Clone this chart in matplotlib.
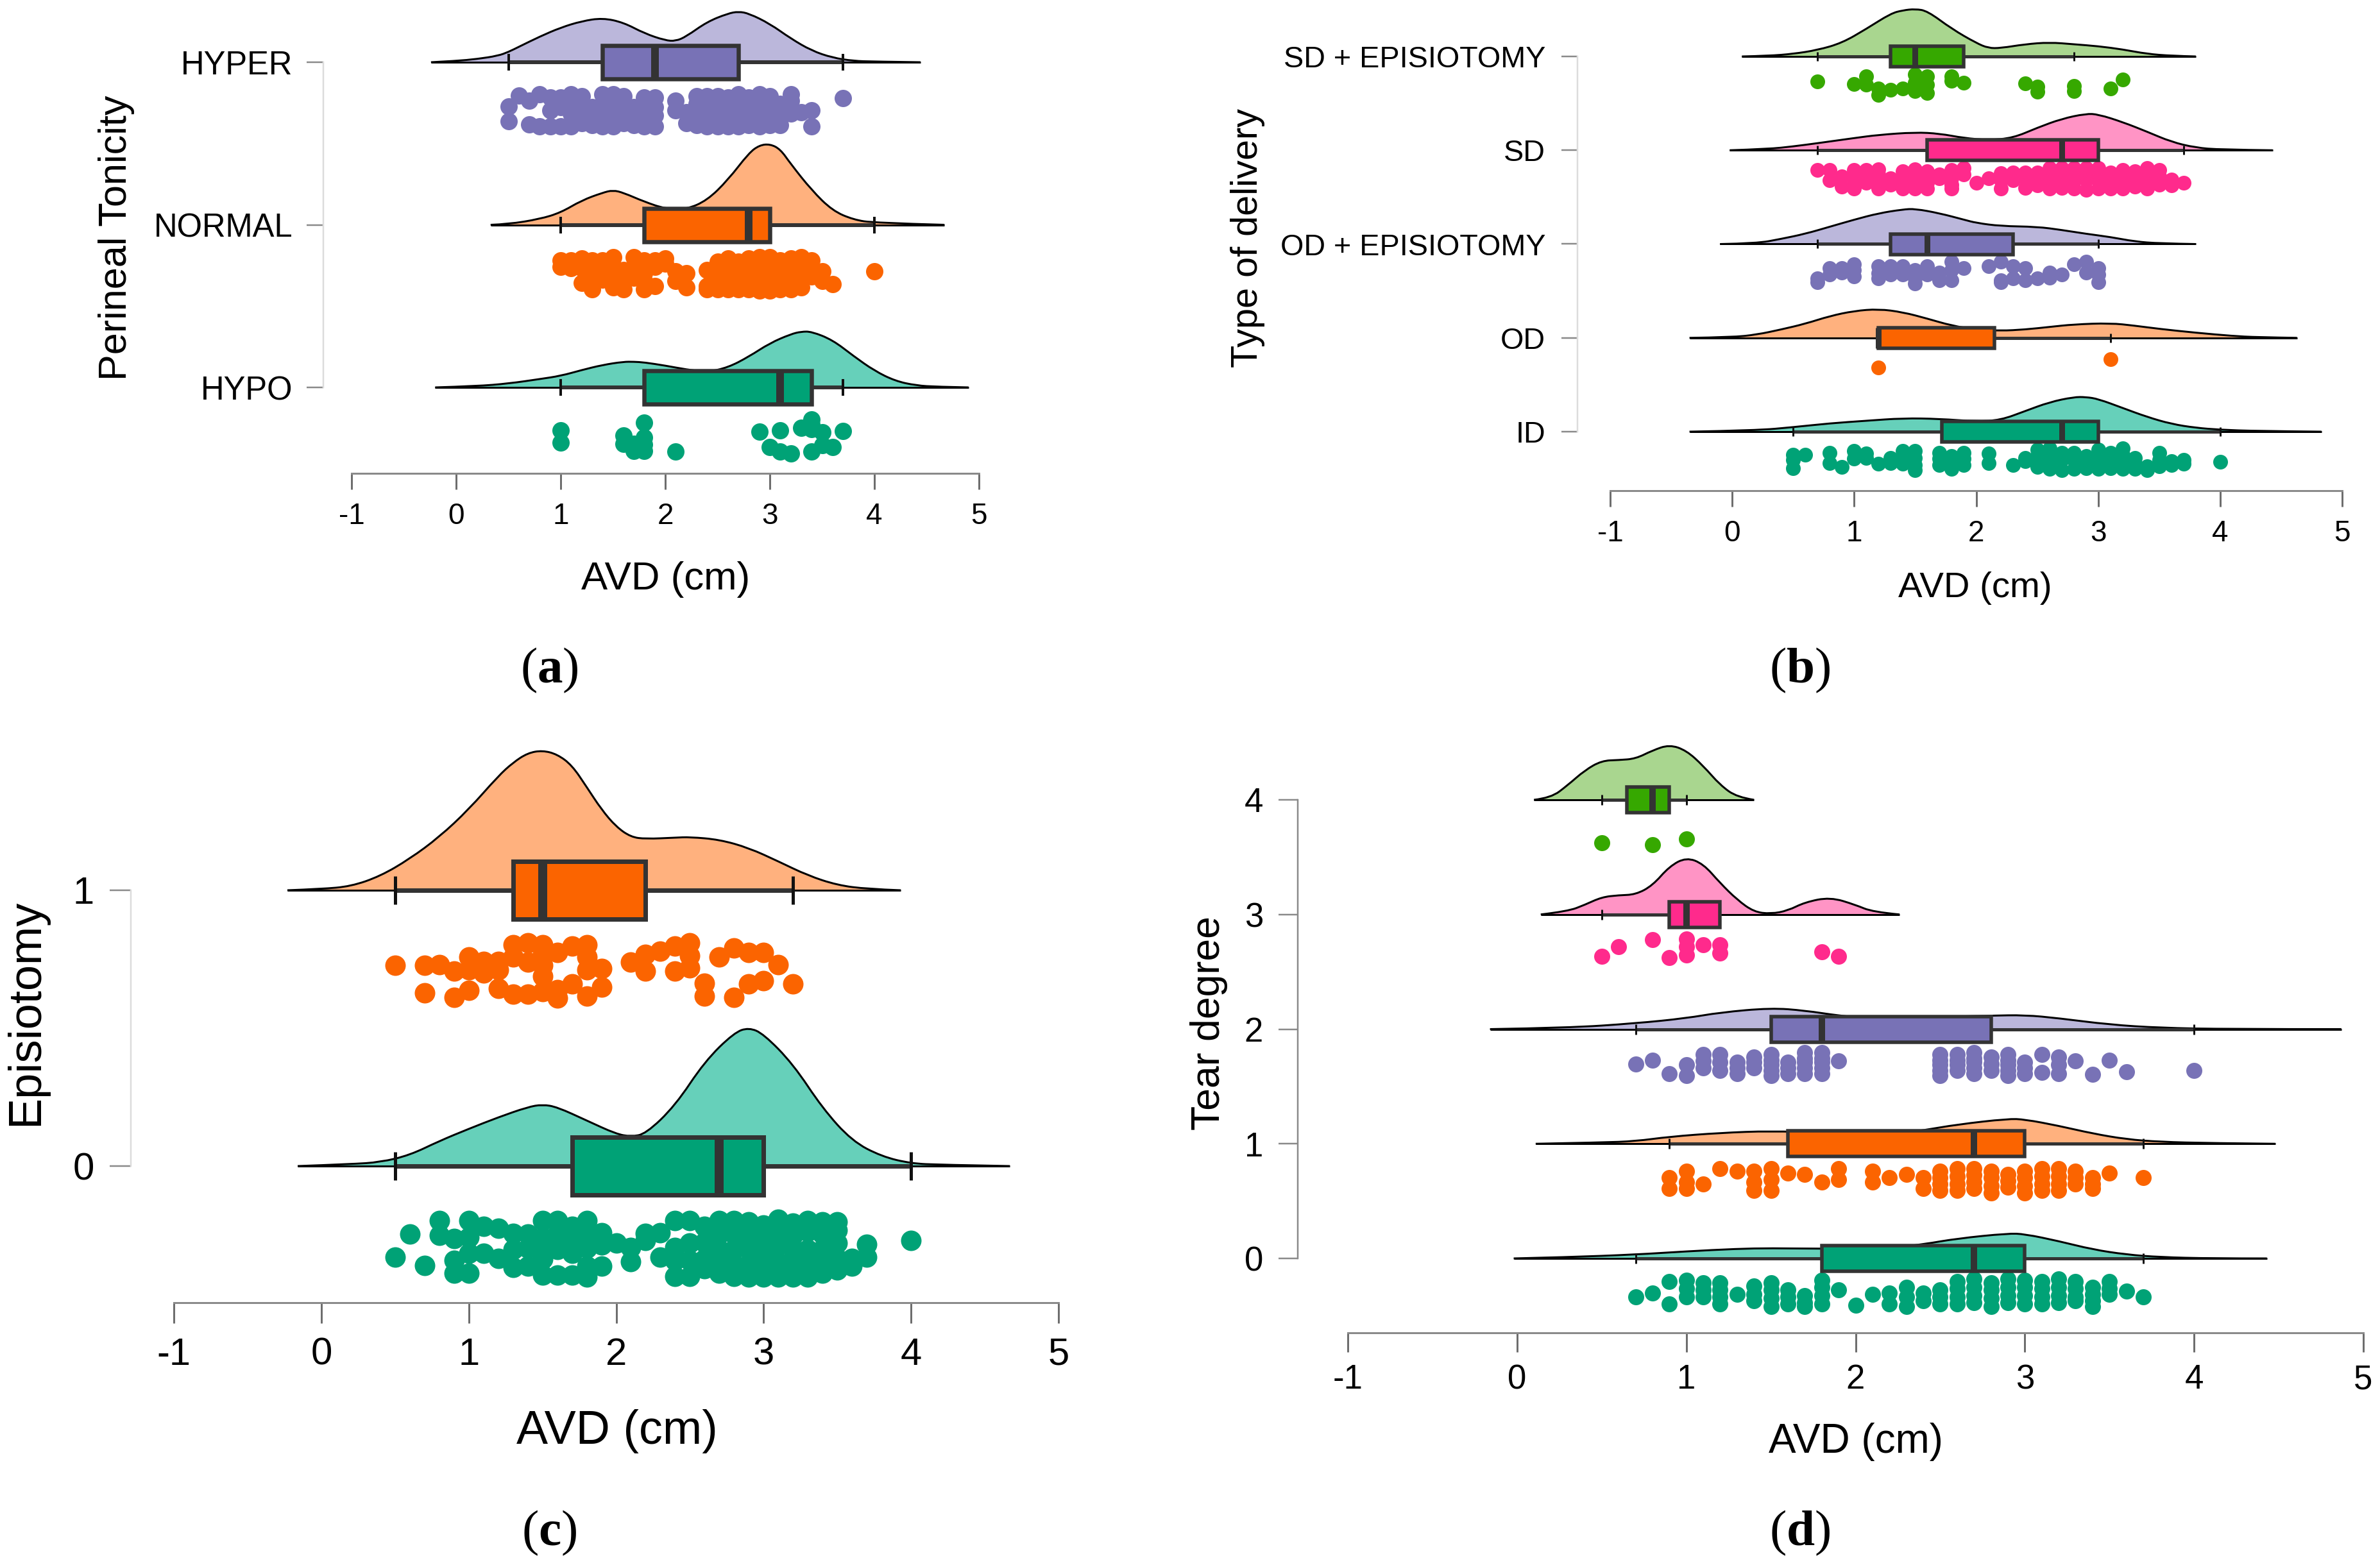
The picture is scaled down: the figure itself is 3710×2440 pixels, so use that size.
import matplotlib
matplotlib.use('Agg')
import matplotlib.pyplot as plt
from matplotlib.path import Path
from matplotlib.patches import PathPatch, Rectangle

W, H = 3710, 2440
PX = 72 / 100.0  # points per pixel at dpi 100

plt.rcParams['font.family'] = ['Liberation Sans', 'DejaVu Sans']
plt.rcParams['mathtext.fontset'] = 'custom'
plt.rcParams['mathtext.rm'] = 'Liberation Serif'
plt.rcParams['mathtext.bf'] = 'Liberation Serif:bold'

# colours, bottom row first
dots = ['#00A276', '#FB6400', '#7872B6', '#FF2A8C', '#36A800']
fills = ['#66D0BA', '#FFB17E', '#BBB7DB', '#FF94C5', '#A9D68F']

# ---------- panel a ----------
a_title = 'Perineal Tonicity'
a_cats = ['HYPO', 'NORMAL', 'HYPER']
a_hypo_kx = [-0.2, 0.2, 0.5, 0.8, 1.0, 1.2, 1.4, 1.6, 1.7, 1.8, 2.0, 2.2, 2.4, 2.6, 2.8, 3.0, 3.2, 3.3, 3.4, 3.6, 3.8, 4.0, 4.2, 4.4, 4.6, 4.9]
a_hypo_kh = [0, 2, 6, 13, 18, 27, 35, 40, 40, 39, 34, 28, 24, 31, 48, 69, 83, 87, 87, 74, 49, 26, 10, 3, 1, 0]
a_normal_kx = [0.33, 0.5, 0.8, 1.0, 1.2, 1.4, 1.5, 1.6, 1.8, 2.0, 2.2, 2.4, 2.6, 2.8, 2.9, 3.0, 3.1, 3.2, 3.4, 3.6, 3.8, 4.0, 4.67]
a_normal_kh = [0, 1, 9, 19, 38, 50, 54, 50, 36, 25, 24, 38, 70, 112, 124, 126, 118, 95, 54, 22, 8, 3, 0]
a_hyper_kx = [-0.24, 0, 0.2, 0.4, 0.5, 0.6, 0.8, 1.0, 1.2, 1.4, 1.6, 1.8, 2.0, 2.1, 2.2, 2.4, 2.6, 2.7, 2.8, 3.0, 3.2, 3.4, 3.6, 3.8, 4.0, 4.44]
a_hyper_kh = [0, 2, 5, 10, 16, 24, 40, 54, 64, 69, 62, 45, 34, 33, 40, 63, 76, 79, 76, 60, 37, 18, 7, 2, 1, 0]
a_hypo_box = [1.0, 1.8, 3.1, 3.4, 3.7]
a_normal_box = [1.0, 1.8, 2.8, 3.0, 4.0]
a_hyper_box = [0.5, 1.4, 1.9, 2.7, 3.7]
a_hypo_x = [1.0, 1.6, 1.7, 1.8, 2.1, 2.9, 3.0, 3.1, 3.2, 3.3, 3.4, 3.5, 3.6, 3.7]
a_hypo_j = [[.34, .72], [.5, .75], [.75, .98], [.1, .55, .78, .98], [1.0], [.38], [.85], [.34, 1.0], [1.05], [.25], [0, .15, .3, 1.0], [.4, .8], [.85], [.35]]
a_normal_x = [1.0, 1.1, 1.2, 1.3, 1.4, 1.5, 1.6, 1.7, 1.8, 1.9, 2.0, 2.1, 2.2, 2.4, 2.5, 2.6, 2.7, 2.8, 2.9, 3.0, 3.1, 3.2, 3.3, 3.4, 3.5, 3.6, 4.0]
a_normal_j = [[.1, .3], [.1, .35], [.05, .35, .8], [.1, .5, 1.0], [.1, .4, .7], [0, .3, .6, .95], [.4, .7, 1.0], [0, .3, .65], [.1, .5, .75, 1.0], [.1, .3, .9], [.05, .2], [.45, .75], [.5, .95], [.4, .9, 1.0], [.15, .35, .7, 1.0], [.05, .25, .7, 1.0], [.15, .4, .7, 1.0], [.05, .35, .6, 1.0], [0, .3, .6, .85, 1.05], [0, .3, .6, .85, 1.05], [.1, .4, .7, 1.0], [.05, .35, .7, 1.0], [0, .25, .5, .75, .95], [.1, .35, .6], [.45, .75], [.85], [.45]]
a_hyper_x = [0.5, 0.6, 0.7, 0.8, 0.9, 1.0, 1.1, 1.2, 1.3, 1.4, 1.5, 1.6, 1.7, 1.8, 1.9, 2.1, 2.2, 2.3, 2.4, 2.5, 2.6, 2.7, 2.8, 2.9, 3.0, 3.1, 3.2, 3.3, 3.4, 3.7]
a_hyper_j = [[.37, .83], [.03], [.2, .93], [0, 1.0], [.1, .5, 1.0], [.1, .4, 1.0], [0, .3, .6, 1.0], [.05, .4, .7, .9], [.4, .6, .95], [0, .3, .6, 1.0], [0, .25, .5, .75, 1.0], [.05, .35, .6, .9], [.4, .65, .95], [.1, .45, .7, 1.0], [.1, .4, .65, 1.0], [.2, .5], [.55, .9], [.05, .3, .6, .95], [.05, .4, .7, 1.0], [.05, .35, .65, 1.0], [.1, .5, .8, 1.0], [0, .3, .6, 1.0], [.1, .4, .7, .95], [0, .35, .65, 1.0], [.05, .4, .7, .95], [.3, .6, .95], [0, .2, .5, .6], [.55], [.5, 1.0], [.12]]

# ---------- panel b ----------
b_title = 'Type of delivery'
b_cats = ['ID', 'OD', 'OD + EPISIOTOMY', 'SD', 'SD + EPISIOTOMY']
b_id_kx = [-0.35, 0.2, 0.5, 0.8, 1.1, 1.4, 1.7, 2.0, 2.2, 2.4, 2.6, 2.8, 2.9, 3.0, 3.2, 3.4, 3.6, 3.8, 4.0, 4.3, 4.83]
b_id_kh = [0, 2, 7, 13, 17, 21, 20, 16, 18, 32, 46, 54, 54, 51, 37, 23, 12, 6, 3, 1, 0]
b_od_kx = [-0.35, 0, 0.2, 0.4, 0.6, 0.8, 1.0, 1.2, 1.4, 1.6, 1.8, 2.0, 2.2, 2.4, 2.6, 2.8, 3.1, 3.3, 3.5, 3.8, 4.1, 4.3, 4.63]
b_od_kh = [0, 1, 5, 13, 22, 34, 42, 45, 40, 30, 19, 13, 11, 13, 17, 21, 23, 19, 14, 8, 3, 1, 0]
b_ode_kx = [-0.1, 0.2, 0.4, 0.6, 0.8, 1.0, 1.2, 1.4, 1.5, 1.7, 1.9, 2.0, 2.2, 2.5, 2.7, 2.9, 3.1, 3.3, 3.5, 3.8]
b_ode_kh = [0, 1, 8, 16, 27, 38, 48, 54, 55, 48, 38, 33, 28, 27, 22, 16, 11, 4, 1, 0]
b_sd_kx = [-0.02, 0.3, 0.5, 0.7, 1.0, 1.2, 1.5, 1.7, 1.9, 2.1, 2.3, 2.5, 2.7, 2.9, 3.0, 3.2, 3.4, 3.6, 3.8, 4.0, 4.43]
b_sd_kh = [0, 2, 6, 11, 19, 24, 28, 26, 19, 16, 19, 35, 49, 57, 56, 44, 29, 13, 4, 1, 0]
b_sde_kx = [0.08, 0.3, 0.5, 0.7, 0.9, 1.1, 1.3, 1.4, 1.5, 1.6, 1.8, 2.0, 2.1, 2.2, 2.4, 2.6, 2.8, 3.0, 3.2, 3.4, 3.6, 3.8]
b_sde_kh = [0, 1, 4, 10, 21, 43, 67, 72, 74, 71, 43, 21, 13, 13, 19, 22, 19, 16, 11, 4, 1, 0]
b_id_box = [0.5, 1.72, 2.7, 3.0, 4.0]
b_od_box = [1.2, 1.2, 1.2, 2.15, 3.1]
b_ode_box = [0.7, 1.3, 1.6, 2.3, 3.0]
b_sd_box = [0.7, 1.6, 2.7, 3.0, 3.7]
b_sde_box = [0.7, 1.3, 1.5, 1.9, 2.8]
b_id_x = [0.5, 0.6, 0.8, 0.9, 1.0, 1.1, 1.2, 1.3, 1.4, 1.5, 1.7, 1.8, 1.9, 2.1, 2.3, 2.4, 2.5, 2.6, 2.7, 2.8, 2.9, 3.0, 3.1, 3.2, 3.3, 3.4, 3.5, 3.6, 3.7, 4.0]
b_id_j = [[.25, .5, .9], [.25], [.15, .65], [.85], [.05, .45], [.2, .4], [.7], [.4, .65], [.05, .35, .7], [.05, .4, .75, 1.0], [.15, .45, .75], [.3, .6, .95], [.15, .45, .75], [.2, .65], [.75], [.4, .55], [0, .3, .6, .85], [-.05, .25, .7, .95], [.15, .5, 1.0], [.15, .5, .95], [.3, .6, .9], [0, .35, .65, .95], [.15, .45, .9], [-.05, .25, .55, .95], [.4, .7, .95], [.8, 1.0], [.15, .5, .8], [.55, .75], [.5, .7], [.6]]
b_od_x = [1.2, 3.1]
b_od_j = [[.56], [.16]]
b_ode_x = [0.7, 0.8, 0.9, 1.0, 1.2, 1.3, 1.4, 1.5, 1.6, 1.7, 1.8, 1.9, 2.1, 2.2, 2.3, 2.4, 2.5, 2.6, 2.7, 2.8, 2.9, 3.0]
b_ode_j = [[.8, 1.0], [.3, .6], [.3, .5], [.1, .4, .7], [.2, .55, .8], [.2, .6], [.2, .6], [.4, .8, 1.05], [.2, .6], [.5, .9], [0, .4, .9], [.3], [.2], [0, .9, 1.0], [.2, .8], [.3, .9], [.8], [.5, .75], [.6], [.1], [0, .5], [.3, .6, 1.0]]
b_sd_x = [0.7, 0.8, 0.9, 1.0, 1.1, 1.2, 1.3, 1.4, 1.5, 1.6, 1.7, 1.8, 1.9, 2.0, 2.1, 2.2, 2.3, 2.4, 2.5, 2.6, 2.7, 2.8, 2.9, 3.0, 3.1, 3.2, 3.3, 3.4, 3.5, 3.6, 3.7]
b_sd_j = [[.1], [.1, .6], [.4, .9], [.1, .4, .7, 1.0], [.1, .4, .7], [.05, .3, .6, 1.0], [.5, .8], [.15, .4, .7, 1.0], [.05, .35, .65, 1.0], [.15, .4, .7, 1.0], [.3, .5], [.1, .5, .8, 1.0], [0, .3], [.7], [.5], [.25, .6, 1.0], [.2, .6], [.2, .5, .95], [.2, .5, .85], [0, .3, .6, 1.0], [0, .3, .6, .95], [0, .3, .6, 1.0], [0, .3, .6, 1.05], [0, .3, .6, 1.0], [.2, .5, .75, 1.0], [.1, .45, .7, 1.0], [.15, .5, .8, .9], [0, .3, .6, 1.0], [.1, .4, .8], [.55, .85], [.7]]
b_sde_x = [0.7, 1.0, 1.1, 1.2, 1.3, 1.4, 1.5, 1.6, 1.8, 1.9, 2.4, 2.5, 2.8, 3.1, 3.2]
b_sde_j = [[.34], [.48], [.08, .5], [.7, 1.0], [.75], [.7], [0, .4, .8], [.1, .5, .9], [.1, .3], [.4], [.45], [.6, .85], [.55, .8], [.7], [.25]]

# ---------- panel c ----------
c_title = 'Episiotomy'
c_cats = ['0', '1']
c_0_kx = [-0.16, 0.2, 0.4, 0.6, 0.8, 1.0, 1.2, 1.4, 1.5, 1.6, 1.8, 2.0, 2.1, 2.2, 2.4, 2.6, 2.8, 2.9, 3.0, 3.2, 3.4, 3.6, 3.8, 4.0, 4.2, 4.67]
c_0_kh = [0, 3, 6, 17, 39, 58, 76, 92, 96, 92, 71, 50, 46, 50, 94, 163, 208, 216, 206, 159, 90, 39, 15, 4, 2, 0]
c_1_kx = [-0.23, 0, 0.2, 0.4, 0.6, 0.8, 1.0, 1.2, 1.3, 1.4, 1.5, 1.6, 1.7, 1.8, 1.9, 2.0, 2.1, 2.2, 2.4, 2.5, 2.7, 2.9, 3.1, 3.3, 3.5, 3.7, 3.93]
c_1_kh = [0, 2, 6, 22, 49, 83, 126, 178, 199, 214, 218, 212, 195, 161, 126, 99, 83, 80, 82, 83, 79, 66, 45, 23, 8, 2, 0]
c_0_box = [0.5, 1.7, 2.7, 3.0, 4.0]
c_1_box = [0.5, 1.3, 1.5, 2.2, 3.2]
c_0_x = [0.5, 0.6, 0.7, 0.8, 0.9, 1.0, 1.1, 1.2, 1.3, 1.4, 1.5, 1.6, 1.7, 1.8, 1.9, 2.0, 2.1, 2.2, 2.3, 2.4, 2.5, 2.6, 2.7, 2.8, 2.9, 3.0, 3.1, 3.2, 3.3, 3.4, 3.5, 3.6, 3.7, 4.0]
c_0_j = [[.67], [.25], [.82], [0, .27], [.33, .73, .96], [0, .3, .6, .96], [.1, .6], [.14, .69], [.24, .53, .86], [.25, .5, .84], [0, .3, .5, .7, 1.0], [0, .25, .53, 1.0], [.1, .37, .6, 1.0], [0, .25, .5, .84, 1.04], [.22, .45, .84], [.41], [.49, .75], [.24, .37], [.22, .67], [0, .49, .73, 1.02], [0, .41, .73, 1.02], [.1, .4, .7, .88], [0, .25, .53, .76, .96], [0, .25, .53, .8, 1.02], [.02, .3, .53, .8, 1.04], [.08, .3, .57, .8, 1.04], [-.02, .22, .45, .76, 1.04], [.05, .27, .53, .8, 1.04], [0, .2, .53, .76, 1.04], [.02, .25, .53, .76, .96], [.02, .18, .41, .69, .9], [.69, .84], [.43, .67], [.36]]
c_1_x = [0.5, 0.7, 0.8, 0.9, 1.0, 1.1, 1.2, 1.3, 1.4, 1.5, 1.6, 1.7, 1.8, 1.9, 2.1, 2.2, 2.3, 2.4, 2.5, 2.6, 2.7, 2.8, 2.9, 3.0, 3.1, 3.2]
c_1_j = [[.38], [.38, .88], [.36], [.48, .96], [.22, .46, .84], [.3, .52], [.3, .46, .8], [0, .22, .9], [-.04, .32, .9], [0, .18, .38, .58, .86], [.14, .82, .98], [.02, .72], [0, .22, .46, .94], [.44, .78], [.32], [.18, .48], [.12], [.02, .48], [-.04, .2, .42], [.7, .94], [.22], [.06, .96], [.14, .72], [.14, .66], [.36], [.72]]

# ---------- panel d ----------
d_title = 'Tear degree'
d_cats = ['0', '1', '2', '3', '4']
d_0_kx = [-0.02, 0.3, 0.7, 1.0, 1.3, 1.5, 1.8, 2.2, 2.4, 2.6, 2.9, 3.0, 3.2, 3.4, 3.6, 3.8, 4.1, 4.43]
d_0_kh = [0, 2, 6, 11, 15, 16, 15, 16, 22, 31, 39, 38, 27, 14, 6, 2, 0, 0]
d_1_kx = [0.11, 0.5, 0.7, 0.9, 1.2, 1.5, 1.8, 2.2, 2.4, 2.6, 2.9, 3.0, 3.2, 3.4, 3.6, 3.8, 4.1, 4.48]
d_1_kh = [0, 2, 4, 11, 17, 20, 17, 14, 21, 30, 39, 38, 28, 16, 7, 3, 1, 0]
d_2_kx = [-0.16, 0.3, 0.7, 1.0, 1.2, 1.5, 1.7, 1.9, 2.2, 2.5, 2.8, 3.0, 3.2, 3.5, 3.8, 4.2, 4.87]
d_2_kh = [0, 2, 9, 17, 26, 33, 29, 21, 13, 19, 21, 22, 17, 7, 2, 0, 0]
d_3_kx = [0.14, 0.3, 0.4, 0.5, 0.6, 0.7, 0.8, 0.9, 1.0, 1.1, 1.2, 1.3, 1.4, 1.5, 1.6, 1.7, 1.85, 2.0, 2.1, 2.26]
d_3_kh = [0, 5, 15, 27, 30, 31, 45, 75, 89, 79, 49, 23, 4, 1, 6, 19, 27, 15, 4, 0]
d_4_kx = [0.1, 0.2, 0.3, 0.4, 0.5, 0.6, 0.7, 0.8, 0.9, 1.0, 1.1, 1.2, 1.3, 1.4]
d_4_kh = [0, 3, 23, 46, 61, 62, 64, 77, 86, 77, 53, 23, 4, 0]
d_0_box = [0.7, 1.8, 2.7, 3.0, 3.7]
d_1_box = [0.9, 1.6, 2.7, 3.0, 3.7]
d_2_box = [0.7, 1.5, 1.8, 2.8, 4.0]
d_3_box = [0.5, 0.9, 1.0, 1.2, 1.2]
d_4_box = [0.5, 0.65, 0.8, 0.9, 1.0]
d_0_x = [0.7, 0.8, 0.9, 1.0, 1.1, 1.2, 1.3, 1.4, 1.5, 1.6, 1.7, 1.8, 1.9, 2.0, 2.1, 2.2, 2.3, 2.4, 2.5, 2.6, 2.7, 2.8, 2.9, 3.0, 3.1, 3.2, 3.3, 3.4, 3.5, 3.6, 3.7]
d_0_j = [[.65], [.5], [.1, .9], [.05, .35, .65], [.15, .4, .65], [.15, .4, .65, .9], [.55], [.25, .55, .8], [.15, .4, .7, 1.0], [.4, .65, .9], [.6, .85, 1.0], [.05, .3, .6, .9], [.4], [.95], [.55], [.5, .9], [.3, .65, 1.0], [.5, .8], [.4, .65, .9], [.1, .35, .65, .9], [0, .3, .6, .85], [.15, .4, .7, 1.0], [0, .3, .6, .85], [.05, .3, .6, .9], [.1, .35, .65, .9], [0, .3, .6, .85], [.1, .35, .65, .8], [.3, .55, .8, 1.0], [.1, .35, .55], [.45], [.65]]
d_1_x = [0.9, 1.0, 1.1, 1.2, 1.3, 1.4, 1.5, 1.6, 1.7, 1.8, 1.9, 2.1, 2.2, 2.3, 2.4, 2.5, 2.6, 2.7, 2.8, 2.9, 3.0, 3.1, 3.2, 3.3, 3.4, 3.5, 3.7]
d_1_j = [[.4, .9], [.1, .6, .9], [.7], [0], [.1], [.1, .6, 1.0], [0, .5, 1.0], [.2], [.25], [.6], [0, .5], [.1, .6], [.4], [.25], [.4, .9], [.1, .4, .7, 1.0], [0, .35, .7, 1.0], [0, .3, .6, .9], [.1, .4, .8, 1.1], [.25, .55, .85], [.1, .4, .8, 1.1], [0, .35, .7, 1.0], [0, .35, .7, 1.0], [.1, .4, .7], [.4, .7, .9], [.2], [.4]]
d_2_x = [0.7, 0.8, 0.9, 1.0, 1.1, 1.2, 1.3, 1.4, 1.5, 1.6, 1.7, 1.8, 1.9, 2.5, 2.6, 2.7, 2.8, 2.9, 3.0, 3.1, 3.2, 3.3, 3.4, 3.5, 3.6, 4.0]
d_2_j = [[.5], [.3], [1.0], [.55, 1.1], [0, .35, .7], [0, .4, .85], [.4, .7, 1.0], [.15, .4, .7], [0, .3, .55, .85, 1.1], [.4, .7, 1.0], [-.1, .2, .4, .7, 1.0], [-.1, .2, .4, .7, 1.0], [.35], [0, .3, .55, .85, 1.1], [0, .3, .55, .85], [-.1, .2, .4, .7, 1.0], [.15, .5, .85], [0, .3, .55, .85, 1.1], [.4, .7, 1.0], [0, .95], [.15, .55, 1.0], [.35], [1.05], [.3], [.9], [.85]]
d_3_x = [0.5, 0.6, 0.8, 0.9, 1.0, 1.1, 1.2, 1.8, 1.9]
d_3_j = [[.86], [.38], [.05], [.92], [0, .38, .78], [.3], [.3, .7], [.62], [.86]]
d_4_x = [0.5, 0.8, 1.0]
d_4_j = [[.92], [1.0], [.73]]


def fill_curve(ax, kx, kh, cat, px_unit, color, lw):
    # smooth path through the read knots
    pts = [(x, cat + h / px_unit) for x, h in zip(kx, kh)]
    verts = [pts[0]]
    codes = [Path.MOVETO]
    for i in range(1, len(pts) - 1):
        nx = pts[i + 1] if i == len(pts) - 2 else ((pts[i][0] + pts[i + 1][0]) / 2, (pts[i][1] + pts[i + 1][1]) / 2)
        verts += [pts[i], nx]
        codes += [Path.CURVE3, Path.CURVE3]
    ax.add_patch(PathPatch(Path(verts, codes), facecolor=color, edgecolor='none', zorder=2))
    ax.add_patch(PathPatch(Path(verts, codes), facecolor='none', edgecolor='black', lw=lw * PX, zorder=3))
    ax.plot([kx[0], kx[-1]], [cat, cat], color='black', lw=lw * PX, zorder=3, solid_capstyle='butt')


def box(ax, vals, cat, px_unit, color, st):
    lo, q1, med, q3, hi = vals
    half = st['half'] / px_unit
    ax.plot([lo, q1], [cat, cat], color='#333333', lw=st['whisk'] * PX, zorder=4, solid_capstyle='butt')
    ax.plot([q3, hi], [cat, cat], color='#333333', lw=st['whisk'] * PX, zorder=4, solid_capstyle='butt')
    ax.add_patch(Rectangle((q1, cat - half), q3 - q1, 2 * half, facecolor=color, edgecolor='#333333',
                           lw=st['edge'] * PX, zorder=5))
    ax.plot([med, med], [cat - half, cat + half], color='#333333', lw=st['med'] * PX, zorder=6, solid_capstyle='butt')
    cap = st['cap'] / px_unit
    for w in (lo, hi):
        if w != q1 and w != q3:
            ax.plot([w, w], [cat - cap, cat + cap], color='#111111', lw=st['capw'] * PX, zorder=4, solid_capstyle='butt')


def strip(ax, xs, js, cat, px_unit, color, band, size):
    px = []
    py = []
    for x, col in zip(xs, js):
        for j in col:
            px.append(x)
            py.append(cat - (band[0] + j * (band[1] - band[0])) / px_unit)
    ax.scatter(px, py, s=(size * PX) ** 2, color=color, linewidths=0, zorder=4, clip_on=False)


def panel(rect, cats, y0, y_last, labels, title, st):
    # rect is left, right, top, bottom of the frame in pixels
    l, r, t, b = rect
    ax = fig.add_axes([l / W, 1 - b / H, (r - l) / W, (b - t) / H])
    px_unit = (y0 - y_last) / (len(cats) - 1)
    ax.set_xlim(-1, 5)
    ax.set_ylim(-(b - y0) / px_unit, (y0 - t) / px_unit)
    ax.patch.set_alpha(0)
    for s in ('top', 'right'):
        ax.spines[s].set_visible(False)
    ax.spines['bottom'].set_color('#8a8a8a')
    ax.spines['bottom'].set_linewidth(st['sp'] * PX)
    ax.spines['left'].set_color(st['lc'])
    ax.spines['left'].set_linewidth(2.5 * PX)
    ax.spines['left'].set_position(('outward', st['lout'] * PX))
    ax.spines['left'].set_bounds(0, len(cats) - 1)
    ax.set_xticks([-1, 0, 1, 2, 3, 4, 5])
    ax.set_xticklabels(['-1', '0', '1', '2', '3', '4', '5'])
    ax.set_yticks(range(len(cats)))
    ax.set_yticklabels(cats)
    ax.tick_params(axis='x', length=st['xtl'] * PX, width=st['sp'] * PX, color='#6e6e6e',
                   labelsize=st['xfs'], pad=st['xpad'] * PX)
    ax.tick_params(axis='y', length=st['ytl'] * PX, width=2.5 * PX, color='#8a8a8a',
                   labelsize=st['yfs'], pad=st['ypad'] * PX)
    ax.set_xlabel('AVD (cm)', fontsize=st['xlfs'], va='center')
    ax.xaxis.set_label_coords(labels[0] / W, 1 - labels[1] / H, transform=fig.transFigure)
    ax.set_ylabel(title, fontsize=st['ylfs'], va='center', rotation=90)
    ax.yaxis.set_label_coords(labels[2] / W, 1 - labels[3] / H, transform=fig.transFigure)
    return ax, px_unit


def row(ax, px_unit, i, kx, kh, bx, xs, js, st, band=None):
    fill_curve(ax, kx, kh, i, px_unit, fills[i], st['out'])
    box(ax, bx, i, px_unit, dots[i], st)
    strip(ax, xs, js, i, px_unit, dots[i], band or st['band'], st['dot'])


fig = plt.figure(figsize=(W / 100, H / 100), dpi=100, facecolor='white')

# panel a
st_a = dict(half=26, edge=6.5, med=12, whisk=6, cap=13, capw=4, out=3, dot=27, band=(50, 100), sp=3, xtl=25, ytl=26,
            lout=44, lc='#dcdcdc', xfs=33, yfs=36.5, xlfs=44.5, ylfs=44, xpad=20, ypad=22)
ax, u = panel((548, 1526, 0, 738), a_cats, 604, 97, (1038, 903, 182, 371), a_title, st_a)
row(ax, u, 0, a_hypo_kx, a_hypo_kh, a_hypo_box, a_hypo_x, a_hypo_j, st_a)
row(ax, u, 1, a_normal_kx, a_normal_kh, a_normal_box, a_normal_x, a_normal_j, st_a)
row(ax, u, 2, a_hyper_kx, a_hyper_kh, a_hyper_box, a_hyper_x, a_hyper_j, st_a)

# panel b
st_b = dict(half=16, edge=5.5, med=9, whisk=5, cap=7, capw=3, out=3, dot=23, band=(28, 60), sp=3, xtl=25, ytl=25,
            lout=51, lc='#dcdcdc', xfs=33, yfs=33.7, xlfs=40.5, ylfs=41.5, xpad=20, ypad=25)
ax, u = panel((2510, 3651, 0, 765), b_cats, 673, 88, (3079, 917, 1945, 371), b_title, st_b)
row(ax, u, 0, b_id_kx, b_id_kh, b_id_box, b_id_x, b_id_j, st_b)
row(ax, u, 1, b_od_kx, b_od_kh, b_od_box, b_od_x, b_od_j, st_b)
row(ax, u, 2, b_ode_kx, b_ode_kh, b_ode_box, b_ode_x, b_ode_j, st_b)
row(ax, u, 3, b_sd_kx, b_sd_kh, b_sd_box, b_sd_x, b_sd_j, st_b)
row(ax, u, 4, b_sde_kx, b_sde_kh, b_sde_box, b_sde_x, b_sde_j, st_b)

# panel c
st_c = dict(half=45, edge=7, med=14, whisk=7, cap=22, capw=5, out=3, dot=32, band=(85, 170), sp=3, xtl=32, ytl=33,
            lout=67, lc='#dcdcdc', xfs=43, yfs=43, xlfs=53, ylfs=52, xpad=22, ypad=24)
ax, u = panel((271, 1650, 1100, 2031), c_cats, 1818, 1388, (962, 2231, 41, 1578), c_title, st_c)
row(ax, u, 0, c_0_kx, c_0_kh, c_0_box, c_0_x, c_0_j, st_c)
row(ax, u, 1, c_1_kx, c_1_kh, c_1_box, c_1_x, c_1_j, st_c)

# panel d
st_d = dict(half=20, edge=5.5, med=10, whisk=5, cap=8, capw=3, out=3, dot=25, band=(38, 70), sp=3, xtl=30, ytl=30,
            lout=78, lc='#8a8a8a', xfs=38, yfs=38, xlfs=46, ylfs=45, xpad=18, ypad=24)
ax, u = panel((2101, 3684, 1100, 2078), d_cats, 1962, 1247, (2893, 2248, 1885, 1595), d_title, st_d)
row(ax, u, 0, d_0_kx, d_0_kh, d_0_box, d_0_x, d_0_j, st_d, band=(32, 75))
row(ax, u, 1, d_1_kx, d_1_kh, d_1_box, d_1_x, d_1_j, st_d, band=(39, 73))
row(ax, u, 2, d_2_kx, d_2_kh, d_2_box, d_2_x, d_2_j, st_d, band=(39, 69))
row(ax, u, 3, d_3_kx, d_3_kh, d_3_box, d_3_x, d_3_j, st_d)
row(ax, u, 4, d_4_kx, d_4_kh, d_4_box, d_4_x, d_4_j, st_d)

# sub figure letters
for letter, x, y in [('a', 856, 1045), ('b', 2806, 1045), ('c', 856, 2390), ('d', 2806, 2390)]:
    fig.text(x / W, 1 - y / H, '(' + r'$\mathbf{' + letter + '}$' + ')', family='Liberation Serif', fontsize=57,
             ha='center', va='center')

fig.savefig('out.png', dpi=100)
